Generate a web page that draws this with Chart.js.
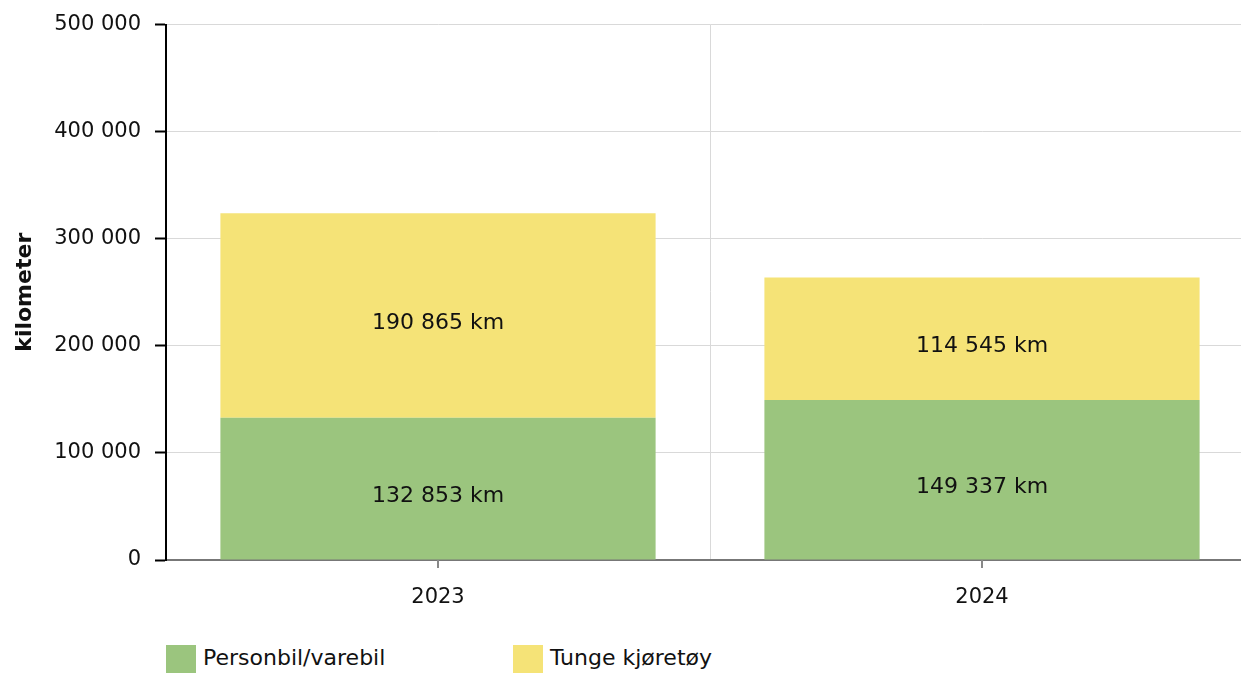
<!DOCTYPE html>
<html>
<head>
    <meta charset="utf-8">
    <title>Kilometer</title>
    <style>
        body{
            margin:0;
            overflow:hidden;
            background:white;
            font-family:"DejaVu Sans", Verdana, sans-serif;
        }
        .wrap{
            position:relative;
            width:1254px;
            height:673px;
        }
        .legend{
            position:absolute;
            top:645px;
            left:166px;
            display:flex;
            font-size:22px;
            color:#111;
        }
        .item{
            display:flex;
            align-items:flex-start;
        }
        .box{
            width:30px;
            height:28px;
            margin-right:7px;
        }
    </style>
</head>
<body>
<div class="wrap">
    <canvas id="chart" width="1254" height="630" style="width:1254px;height:630px;display:block"></canvas>
    <div class="legend" id="legend"></div>
</div>

<script src="https://cdn.jsdelivr.net/npm/chart.js@4.4.0/dist/chart.umd.min.js"></script>
<script>
    const years = ["2023", "2024"];
    const personbil = [132853, 149337];
    const tunge = [190865, 114545];
    const seriesNames = ["Personbil/varebil", "Tunge kjøretøy"];
    const yTicks = [0, 100000, 200000, 300000, 400000, 500000];

    const green = "#9bc57e";
    const yellow = "#f5e377";
    const font = "'DejaVu Sans', Verdana, sans-serif";

    function fmt(v) {
        return String(v).replace(/\B(?=(\d{3})+(?!\d))/g, " ");
    }

    // value labels in the middle of each segment
    const segmentLabels = {
        id: "segmentLabels",
        afterDatasetsDraw(chart) {
            const ctx = chart.ctx;
            ctx.save();
            ctx.font = "22px " + font;
            ctx.fillStyle = "#111";
            ctx.textAlign = "center";
            ctx.textBaseline = "middle";
            chart.data.datasets.forEach((ds, i) => {
                chart.getDatasetMeta(i).data.forEach((bar, j) => {
                    ctx.fillText(fmt(ds.data[j]) + " km", bar.x, (bar.y + bar.base) / 2 + 8);
                });
            });
            ctx.restore();
        }
    };

    // small tick marks under category centres
    const centreTicks = {
        id: "centreTicks",
        afterDraw(chart) {
            const x = chart.scales.x;
            const ctx = chart.ctx;
            ctx.save();
            ctx.strokeStyle = "#888";
            ctx.lineWidth = 2;
            x.ticks.forEach((t, i) => {
                const px = Math.round(x.getPixelForTick(i));
                ctx.beginPath();
                ctx.moveTo(px, x.top);
                ctx.lineTo(px, x.top + 8);
                ctx.stroke();
            });
            ctx.restore();
        }
    };

    new Chart("chart", {
        type: "bar",
        data: {
            labels: years,
            datasets: [
                {label: seriesNames[0], data: personbil, backgroundColor: green, barPercentage: 0.8, categoryPercentage: 1},
                {label: seriesNames[1], data: tunge, backgroundColor: yellow, barPercentage: 0.8, categoryPercentage: 1}
            ]
        },
        options: {
            responsive: false,
            animation: false,
            layout: {padding: {top: 24, right: 0, left: 0, bottom: 0}},
            plugins: {
                legend: {display: false},
                tooltip: {enabled: false}
            },
            scales: {
                x: {
                    stacked: true,
                    grid: {color: "#d9d9d9", drawTicks: false, offset: true},
                    border: {color: "#777", width: 2},
                    ticks: {color: "#111", padding: 25, font: {family: font, size: 21}},
                    afterFit(scale) { scale.height = 70; }
                },
                y: {
                    stacked: true,
                    min: 0,
                    max: 500000,
                    afterBuildTicks(scale) { scale.ticks = yTicks.map(v => ({value: v})); },
                    grid: {color: "#d9d9d9", tickColor: "#000", tickLength: 11, tickWidth: 2},
                    border: {color: "#000", width: 2},
                    ticks: {
                        color: "#111",
                        padding: 14,
                        font: {family: font, size: 21, lineHeight: 1},
                        callback: v => fmt(v)
                    },
                    title: {
                        display: true,
                        text: "kilometer",
                        color: "#111",
                        font: {family: font, size: 22, weight: "bold"},
                        padding: {top: 12, bottom: 0}
                    },
                    afterFit(scale) { scale.width = 166; }
                }
            }
        },
        plugins: [segmentLabels, centreTicks]
    });

    const legend = document.getElementById("legend");
    [green, yellow].forEach((c, i) => {
        const item = document.createElement("div");
        item.className = "item";
        item.style.width = i === 0 ? "347px" : "auto";
        item.innerHTML = '<div class="box" style="background:' + c + '"></div><span>' + seriesNames[i] + '</span>';
        legend.appendChild(item);
    });
</script>
</body>
</html>
